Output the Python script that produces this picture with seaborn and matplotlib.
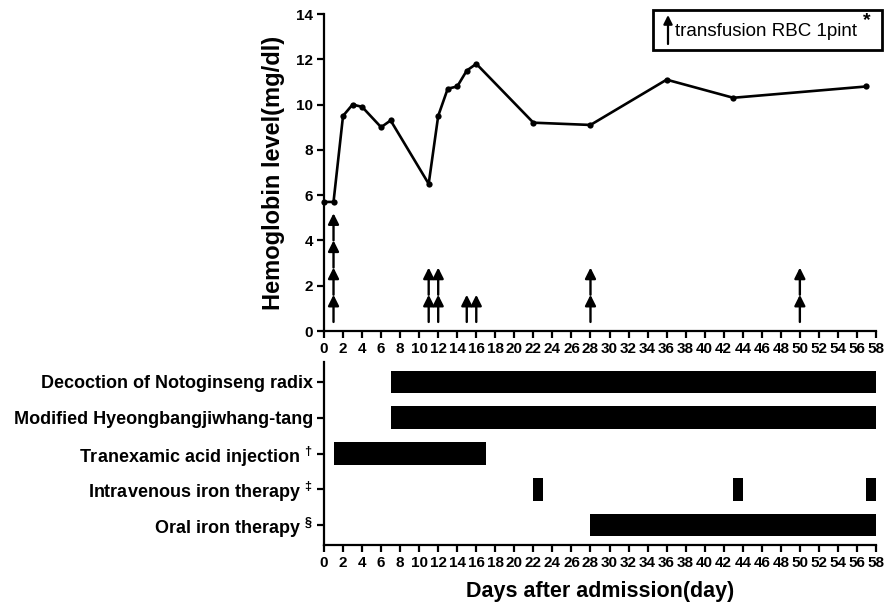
import matplotlib
matplotlib.use("Agg")
import matplotlib.pyplot as plt
from matplotlib.patches import Rectangle, FancyArrowPatch
import seaborn as sns
import pandas as pd

# ---------------- data ----------------
days = [0, 1, 2, 3, 4, 6, 7, 11, 12, 13, 14, 15, 16, 22, 28, 36, 43, 57]
hemoglobin = [5.7, 5.7, 9.5, 10.0, 9.9, 9.0, 9.3, 6.5, 9.5, 10.7, 10.8, 11.5, 11.8,
              9.2, 9.1, 11.1, 10.3, 10.8]

transfusion_days = [1, 11, 12, 15, 16, 28, 50]
transfusion_units = [4, 2, 2, 1, 1, 2, 2]

therapy_names = [
    "Decoction of Notoginseng radix",
    "Modified Hyeongbangjiwhang-tang",
    "Tranexamic acid injection $^{†}$",
    "Intravenous iron therapy $^{‡}$",
    "Oral iron therapy $^{§}$",
]
therapy_starts = [[7], [7], [1], [22, 43, 57], [28]]
therapy_ends = [[58], [58], [17], [23, 44, 58], [58]]

x_ticks = list(range(0, 59, 2))
y_ticks = list(range(0, 15, 2))

# ---------------- style ----------------
sns.set_style("ticks")
plt.rcParams["font.family"] = ["Liberation Sans", "DejaVu Sans"]
plt.rcParams["font.weight"] = "bold"
plt.rcParams["mathtext.fontset"] = "custom"
plt.rcParams["mathtext.rm"] = "Liberation Sans:bold"
plt.rcParams["mathtext.it"] = "Liberation Sans:bold"
plt.rcParams["mathtext.bf"] = "Liberation Sans:bold"
for key in ("text.color", "axes.labelcolor", "xtick.color", "ytick.color",
            "axes.edgecolor"):
    plt.rcParams[key] = "black"

fig = plt.figure(figsize=(8.85, 6.03), dpi=100)
ax1 = fig.add_axes([324 / 885, 1 - 331 / 603, 552 / 885, 317 / 603])
ax2 = fig.add_axes([324 / 885, 1 - 545 / 603, 552 / 885, 183 / 603])

# ---------------- hemoglobin line ----------------
df = pd.DataFrame({"day": days, "hb": hemoglobin})
sns.lineplot(data=df, x="day", y="hb", ax=ax1, color="black", linewidth=1.9,
             marker="o", markersize=4.5, markeredgewidth=0, clip_on=False)

# transfusion arrows (stacked, one per pint)
seg = 1.2
base = 0.4
for d, n in zip(transfusion_days, transfusion_units):
    for k in range(n):
        ax1.annotate("", xy=(d, base + seg * (k + 1)), xytext=(d, base + seg * k),
                     arrowprops=dict(arrowstyle="-|>", mutation_scale=16, lw=1.7,
                                     color="black", shrinkA=0, shrinkB=0))

ax1.set_xlim(0, 58)
ax1.set_ylim(0, 14)
ax1.set_xticks(x_ticks)
ax1.set_yticks(y_ticks)
ax1.set_xlabel("")
ax1.set_ylabel("Hemoglobin level(mg/dl)", fontsize=17, fontweight="bold", labelpad=8)
sns.despine(ax=ax1)

# ---------------- therapy gantt ----------------
for i, (starts, ends) in enumerate(zip(therapy_starts, therapy_ends)):
    for s, e in zip(starts, ends):
        ax2.barh(i, e - s, left=s, height=0.62, color="black", edgecolor="none")

ax2.set_xlim(0, 58)
ax2.set_ylim(4.55, -0.55)
ax2.set_xticks(x_ticks)
ax2.set_yticks(range(len(therapy_names)))
ax2.set_yticklabels(therapy_names, fontsize=13, fontweight="bold")
ax2.set_xlabel("Days after admission(day)", fontsize=15.5, fontweight="bold", labelpad=8)
sns.despine(ax=ax2)

for ax in (ax1, ax2):
    for sp in ("left", "bottom"):
        ax.spines[sp].set_linewidth(1.6)
        ax.spines[sp].set_color("black")
    ax.tick_params(direction="out", length=5, width=1.6, labelsize=11, pad=3,
                   color="black", labelcolor="black")
    for lab in ax.get_xticklabels():
        lab.set_fontweight("bold")
for lab in ax1.get_yticklabels():
    lab.set_fontweight("bold")
ax2.tick_params(axis="y", labelsize=13)

# ---------------- legend box ----------------
fig.patches.append(Rectangle((653 / 885, 1 - 50 / 603), 229 / 885, 40 / 603,
                             transform=fig.transFigure, fill=False,
                             edgecolor="black", linewidth=2))
fig.add_artist(FancyArrowPatch(
    (668 / 885, 1 - 44 / 603), (668 / 885, 1 - 15 / 603),
    transform=fig.transFigure, arrowstyle="-|>", mutation_scale=13,
    lw=1.6, color="black", shrinkA=0, shrinkB=0))
fig.text(675 / 885, 1 - 31 / 603, "transfusion RBC 1pint", fontsize=13.5,
         fontweight="normal", va="center", ha="left", family="Liberation Sans",
         color="black")
fig.text(863 / 885, 1 - 21 / 603, "*", fontsize=14, fontweight="bold",
         va="center", ha="left", family="Liberation Sans", color="black")

fig.savefig("out.png", dpi=100)
